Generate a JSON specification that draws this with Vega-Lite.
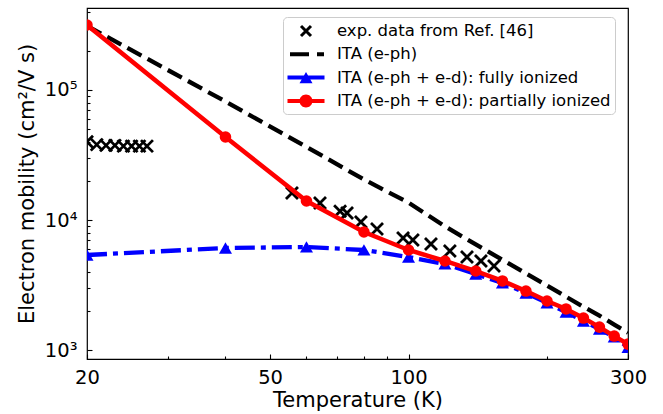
{
  "$schema": "https://vega.github.io/schema/vega-lite/v6.json",
  "width": 541,
  "height": 351,
  "autosize": {"type": "none"},
  "padding": {"left": 87, "top": 8, "right": 35, "bottom": 55},
  "background": "white",
  "config": {
    "font": "DejaVu Sans",
    "view": {"stroke": "black", "strokeWidth": 1.2},
    "axis": {"grid": false, "domain": false, "tickColor": "black", "tickWidth": 1.1, "labelColor": "black", "titleColor": "black", "labelFont": "DejaVu Sans", "titleFont": "DejaVu Sans"}
  },
  "data": {
    "values": [
      {"series": "exp. data from Ref. [46]", "T": 20, "mu": 40000},
      {"series": "exp. data from Ref. [46]", "T": 21, "mu": 38000},
      {"series": "exp. data from Ref. [46]", "T": 22, "mu": 37500},
      {"series": "exp. data from Ref. [46]", "T": 23, "mu": 37500},
      {"series": "exp. data from Ref. [46]", "T": 24, "mu": 37000},
      {"series": "exp. data from Ref. [46]", "T": 25, "mu": 37000},
      {"series": "exp. data from Ref. [46]", "T": 26, "mu": 37000},
      {"series": "exp. data from Ref. [46]", "T": 27, "mu": 37000},
      {"series": "exp. data from Ref. [46]", "T": 55.8, "mu": 16100},
      {"series": "exp. data from Ref. [46]", "T": 64.2, "mu": 13500},
      {"series": "exp. data from Ref. [46]", "T": 71, "mu": 11700},
      {"series": "exp. data from Ref. [46]", "T": 73.5, "mu": 11300},
      {"series": "exp. data from Ref. [46]", "T": 78.8, "mu": 9650},
      {"series": "exp. data from Ref. [46]", "T": 85.4, "mu": 8530},
      {"series": "exp. data from Ref. [46]", "T": 97.3, "mu": 7270},
      {"series": "exp. data from Ref. [46]", "T": 102.2, "mu": 7020},
      {"series": "exp. data from Ref. [46]", "T": 111.9, "mu": 6540},
      {"series": "exp. data from Ref. [46]", "T": 123, "mu": 5770},
      {"series": "exp. data from Ref. [46]", "T": 134, "mu": 5190},
      {"series": "exp. data from Ref. [46]", "T": 143.7, "mu": 4840},
      {"series": "exp. data from Ref. [46]", "T": 153.4, "mu": 4430},
      {"series": "ITA (e-ph)", "T": 20, "mu": 311000},
      {"series": "ITA (e-ph)", "T": 40, "mu": 81600},
      {"series": "ITA (e-ph)", "T": 60, "mu": 36500},
      {"series": "ITA (e-ph)", "T": 80, "mu": 20500},
      {"series": "ITA (e-ph)", "T": 100, "mu": 13600},
      {"series": "ITA (e-ph)", "T": 120, "mu": 8930},
      {"series": "ITA (e-ph)", "T": 140, "mu": 6490},
      {"series": "ITA (e-ph)", "T": 160, "mu": 4940},
      {"series": "ITA (e-ph)", "T": 180, "mu": 3880},
      {"series": "ITA (e-ph)", "T": 200, "mu": 3130},
      {"series": "ITA (e-ph)", "T": 220, "mu": 2570},
      {"series": "ITA (e-ph)", "T": 240, "mu": 2150},
      {"series": "ITA (e-ph)", "T": 260, "mu": 1840},
      {"series": "ITA (e-ph)", "T": 280, "mu": 1570},
      {"series": "ITA (e-ph)", "T": 300, "mu": 1360},
      {"series": "ITA (e-ph + e-d): fully ionized", "T": 20, "mu": 5380},
      {"series": "ITA (e-ph + e-d): fully ionized", "T": 40, "mu": 6090},
      {"series": "ITA (e-ph + e-d): fully ionized", "T": 60, "mu": 6200},
      {"series": "ITA (e-ph + e-d): fully ionized", "T": 80, "mu": 5880},
      {"series": "ITA (e-ph + e-d): fully ionized", "T": 100, "mu": 5190},
      {"series": "ITA (e-ph + e-d): fully ionized", "T": 120, "mu": 4590},
      {"series": "ITA (e-ph + e-d): fully ionized", "T": 140, "mu": 3840},
      {"series": "ITA (e-ph + e-d): fully ionized", "T": 160, "mu": 3280},
      {"series": "ITA (e-ph + e-d): fully ionized", "T": 180, "mu": 2740},
      {"series": "ITA (e-ph + e-d): fully ionized", "T": 200, "mu": 2300},
      {"series": "ITA (e-ph + e-d): fully ionized", "T": 220, "mu": 1960},
      {"series": "ITA (e-ph + e-d): fully ionized", "T": 240, "mu": 1670},
      {"series": "ITA (e-ph + e-d): fully ionized", "T": 260, "mu": 1450},
      {"series": "ITA (e-ph + e-d): fully ionized", "T": 280, "mu": 1260},
      {"series": "ITA (e-ph + e-d): fully ionized", "T": 300, "mu": 1050},
      {"series": "ITA (e-ph + e-d): partially ionized", "T": 20, "mu": 316000},
      {"series": "ITA (e-ph + e-d): partially ionized", "T": 40, "mu": 43500},
      {"series": "ITA (e-ph + e-d): partially ionized", "T": 60, "mu": 14000},
      {"series": "ITA (e-ph + e-d): partially ionized", "T": 80, "mu": 8090},
      {"series": "ITA (e-ph + e-d): partially ionized", "T": 100, "mu": 5880},
      {"series": "ITA (e-ph + e-d): partially ionized", "T": 120, "mu": 4840},
      {"series": "ITA (e-ph + e-d): partially ionized", "T": 140, "mu": 4050},
      {"series": "ITA (e-ph + e-d): partially ionized", "T": 160, "mu": 3400},
      {"series": "ITA (e-ph + e-d): partially ionized", "T": 180, "mu": 2840},
      {"series": "ITA (e-ph + e-d): partially ionized", "T": 200, "mu": 2380},
      {"series": "ITA (e-ph + e-d): partially ionized", "T": 220, "mu": 2070},
      {"series": "ITA (e-ph + e-d): partially ionized", "T": 240, "mu": 1760},
      {"series": "ITA (e-ph + e-d): partially ionized", "T": 260, "mu": 1500},
      {"series": "ITA (e-ph + e-d): partially ionized", "T": 280, "mu": 1280},
      {"series": "ITA (e-ph + e-d): partially ionized", "T": 300, "mu": 1110}
    ]
  },
  "encoding": {
    "x": {
      "field": "T", "type": "quantitative",
      "scale": {"type": "log", "domain": [20, 300], "nice": false, "zero": false},
      "axis": {
        "values": [20, 30, 40, 50, 60, 70, 80, 90, 100, 200, 300],
        "labelExpr": "indexof([20, 50, 100, 300], datum.value) >= 0 ? '' + datum.value : ''",
        "tickSize": {"condition": {"test": "indexof([20, 50, 100, 300], datum.value) >= 0", "value": -5}, "value": -3},
        "labelFontSize": 19.5, "labelFlush": false, "labelOverlap": false,
        "labelBaseline": "alphabetic", "labelPadding": 29,
        "title": "Temperature (K)", "titleFontSize": 21, "titleFontWeight": "normal",
        "titleY": 47, "titleBaseline": "alphabetic"
      }
    },
    "y": {
      "field": "mu", "type": "quantitative",
      "scale": {"type": "log", "domain": [852.7, 427300], "nice": false, "zero": false},
      "axis": {
        "values": [1000, 2000, 3000, 4000, 5000, 6000, 7000, 8000, 9000, 10000, 20000, 30000, 40000, 50000, 60000, 70000, 80000, 90000, 100000, 200000, 300000, 400000],
        "labelExpr": "datum.value == 1000 ? '10³' : datum.value == 10000 ? '10⁴' : datum.value == 100000 ? '10⁵' : ''",
        "tickSize": {"condition": {"test": "indexof([1000, 10000, 100000], datum.value) >= 0", "value": -5}, "value": -3},
        "labelFontSize": 19.5, "labelFlush": false, "labelOverlap": false,
        "labelBaseline": "middle", "labelPadding": 15,
        "title": "Electron mobility (cm²/V s)", "titleFontSize": 21, "titleFontWeight": "normal",
        "titleX": -54, "titleY": 175.5, "titleAngle": -90, "titleBaseline": "alphabetic"
      }
    }
  },
  "layer": [
    {
      "transform": [{"filter": "datum.series == 'exp. data from Ref. [46]'"}],
      "mark": {"type": "point", "shape": "M-1,-1L1,1M-1,1L1,-1", "filled": false, "stroke": "black", "strokeWidth": 2.8, "size": 144, "opacity": 1, "clip": true}
    },
    {
      "transform": [{"filter": "datum.series == 'ITA (e-ph)'"}],
      "mark": {"type": "line", "stroke": "black", "strokeWidth": 4.3, "strokeDash": [16, 7], "clip": true}
    },
    {
      "transform": [{"filter": "datum.series == 'ITA (e-ph + e-d): fully ionized'"}],
      "mark": {"type": "line", "stroke": "blue", "strokeWidth": 4.3, "strokeDash": [20, 6, 5, 6], "clip": true}
    },
    {
      "transform": [{"filter": "datum.series == 'ITA (e-ph + e-d): fully ionized'"}],
      "mark": {"type": "point", "shape": "triangle-up", "filled": true, "fill": "blue", "size": 169, "opacity": 1, "strokeWidth": 0, "clip": true}
    },
    {
      "transform": [{"filter": "datum.series == 'ITA (e-ph + e-d): partially ionized'"}],
      "mark": {"type": "line", "stroke": "red", "strokeWidth": 4.5, "clip": true}
    },
    {
      "transform": [{"filter": "datum.series == 'ITA (e-ph + e-d): partially ionized'"}],
      "mark": {"type": "point", "shape": "circle", "filled": true, "fill": "red", "size": 133, "opacity": 1, "strokeWidth": 0, "clip": true}
    },
    {
      "mark": {"type": "point", "filled": true, "opacity": 0, "clip": true},
      "encoding": {
        "color": {
          "field": "series", "type": "nominal",
          "scale": {"domain": ["exp. data from Ref. [46]", "ITA (e-ph)", "ITA (e-ph + e-d): fully ionized", "ITA (e-ph + e-d): partially ionized"], "range": ["black", "black", "blue", "red"]},
          "legend": {"orient": "none", "legendX": 196, "legendY": 9, "title": null, "fillColor": "white", "strokeColor": "#cccccc", "cornerRadius": 4, "padding": 4, "labelFontSize": 16.5, "labelColor": "black", "labelLimit": 400, "labelFont": "DejaVu Sans", "symbolSize": 400, "symbolStrokeWidth": 0, "symbolOpacity": 1, "symbolOffset": 9, "labelOffset": 21, "rowPadding": 4.3}
        },
        "shape": {
          "field": "series", "type": "nominal",
          "scale": {"domain": ["exp. data from Ref. [46]", "ITA (e-ph)", "ITA (e-ph + e-d): fully ionized", "ITA (e-ph + e-d): partially ionized"], "range": [
            "M-0.394,-0.606L0.606,0.394L0.394,0.606L-0.606,-0.394Z M-0.394,0.606L-0.606,0.394L0.394,-0.606L0.606,-0.394Z",
            "M-1.6,-0.2H0.3V0.2H-1.6Z M1.1,-0.2H1.8V0.2H1.1Z",
            "M-1.85,-0.2H1.85V0.2H-1.85Z M0,-0.56L0.65,0.56L-0.65,0.56Z",
            "M-1.85,-0.2H1.85V0.2H-1.85Z M0.65,0C0.65,0.359 0.359,0.65 0,0.65C-0.359,0.65 -0.65,0.359 -0.65,0C-0.65,-0.359 -0.359,-0.65 0,-0.65C0.359,-0.65 0.65,-0.359 0.65,0Z"
          ]},
          "legend": {"orient": "none", "legendX": 196, "legendY": 9, "title": null, "fillColor": "white", "strokeColor": "#cccccc", "cornerRadius": 4, "padding": 4, "labelFontSize": 16.5, "labelColor": "black", "labelLimit": 400, "labelFont": "DejaVu Sans", "symbolSize": 400, "symbolStrokeWidth": 0, "symbolOpacity": 1, "symbolOffset": 9, "labelOffset": 21, "rowPadding": 4.3}
        }
      }
    }
  ]
}
